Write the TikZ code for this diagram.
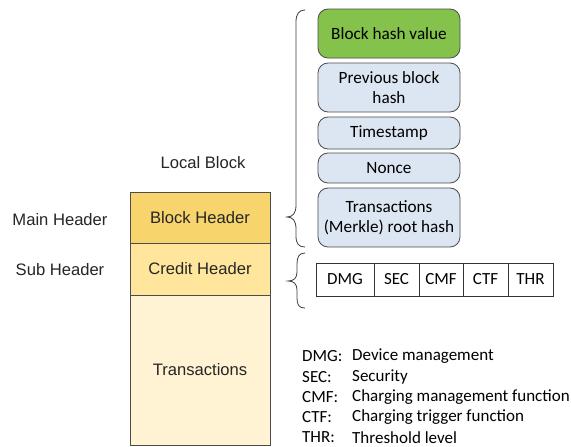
\documentclass[tikz,border=0pt]{standalone}
\usepackage{fontspec}
\setmainfont{Liberation Sans}
\newfontfamily\calfont{Carlito}
\begin{document}
\begin{tikzpicture}[x=1pt,y=-1pt,
  layer/.style={draw=black!70, line width=1pt, minimum width=140pt, inner sep=0pt,
    font=\fontsize{16.6}{19}\selectfont, text=black!85},
  field/.style={draw=black!70, line width=0.8pt, rounded corners=10pt, minimum width=142pt,
    inner sep=0pt, fill=fieldblue, align=center, font=\calfont\fontsize{17.2}{20.5}\selectfont},
  cell/.style={draw=black!80, line width=0.8pt, minimum height=33pt, inner sep=0pt,
    font=\calfont\fontsize{17}{19}\selectfont},
  side/.style={font=\fontsize{16.6}{19}\selectfont, text=black!85},
  legend/.style={anchor=west, inner sep=0pt, font=\calfont\fontsize{17}{19}\selectfont},
  bracepath/.style={draw=black!75, line width=0.8pt}]
\definecolor{fieldblue}{HTML}{DCE6F2}
\definecolor{hashgreen}{HTML}{84C24B}
\definecolor{mainhdr}{HTML}{F8D46C}
\definecolor{subhdr}{HTML}{FFE69C}
\definecolor{txfill}{HTML}{FFF3D3}
\useasboundingbox[fill=white] (0,0) rectangle (571,447);

% local block stack
\node[side] (title) at (203,163) {Local Block};
\node[layer, fill=mainhdr, minimum height=51pt] (bh) at (200,217.5) {Block Header};
\node[layer, fill=subhdr, minimum height=52pt] (ch) at (200,269) {Credit Header};
\node[layer, fill=txfill, minimum height=150pt] (tx) at (200,370) {Transactions};
\node[side] (mainlbl) at (60,220) {Main Header};
\node[side] (sublbl) at (60,270) {Sub Header};

% block header fields
\node[field, fill=hashgreen, minimum height=49pt] (hash) at (389,33.5) {Block hash value};
\node[field, minimum height=49pt] (prev) at (389,87.5) {Previous block\\hash};
\node[field, minimum height=32pt] (ts) at (389,133) {Timestamp};
\node[field, minimum height=30pt] (nonce) at (389,168) {Nonce};
\node[field, minimum height=59pt] (merkle) at (389,217.5) {Transactions\\(Merkle) root hash};

% credit header fields
\node[cell, minimum width=58pt] (dmg) at (345,279.5) {DMG};
\node[cell, minimum width=45pt] (sec) at (396.5,279.5) {SEC};
\node[cell, minimum width=44pt] (cmf) at (441,279.5) {CMF};
\node[cell, minimum width=45pt] (ctf) at (485.5,279.5) {CTF};
\node[cell, minimum width=45pt] (thr) at (530.5,279.5) {THR};

% braces
\draw[bracepath] (305,10) .. controls (299,10) and (296,14) .. (296,22)
  -- (296,205) .. controls (296,213) and (293,217) .. (287,217)
  .. controls (293,217) and (296,221) .. (296,229)
  -- (296,236) .. controls (296,244) and (299,247) .. (305,247);
\draw[bracepath] (305,253) .. controls (299,253) and (297,257) .. (297,264)
  -- (297,272) .. controls (297,278) and (294,281) .. (288,281)
  .. controls (294,281) and (297,284) .. (297,290)
  -- (297,298) .. controls (297,305) and (299,308) .. (305,308);

% legend
\node[legend] (k1) at (302,356) {DMG:};
\node[legend] (k2) at (302,377) {SEC:};
\node[legend] (k3) at (302,397.5) {CMF:};
\node[legend] (k4) at (302,417.5) {CTF:};
\node[legend] (k5) at (302,437.5) {THR:};
\node[legend] (d1) at (352,356) {Device management};
\node[legend] (d2) at (352,377) {Security};
\node[legend] (d3) at (352,397.5) {Charging management function};
\node[legend] (d4) at (352,417.5) {Charging trigger function};
\node[legend] (d5) at (352,437.5) {Threshold level};
\end{tikzpicture}
\end{document}
